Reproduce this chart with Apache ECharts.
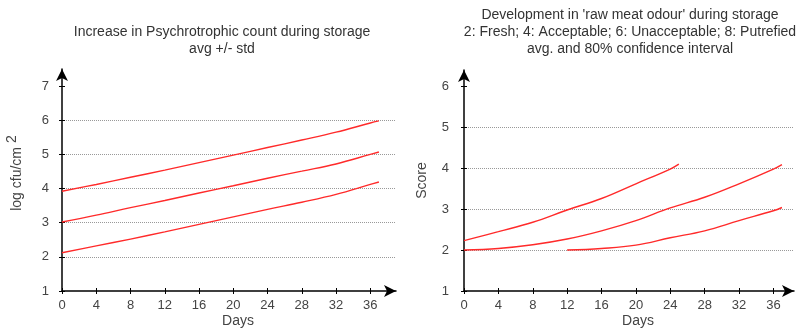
<!DOCTYPE html>
<html><head><meta charset="utf-8">
<script src="https://cdn.jsdelivr.net/npm/echarts@6/dist/echarts.min.js"></script>
<style>html,body{margin:0;padding:0;background:#fff}#c{width:801px;height:329px}</style>
</head><body><div id="c"></div>
<script>
// ---- data ----
const psyDays = [0, 4, 8, 12, 16, 20, 24, 28, 32, 36, 37];
const psyUpper = [3.92, 4.12, 4.33, 4.54, 4.76, 4.98, 5.20, 5.42, 5.65, 5.92, 5.98];
const psyAvg = [3.02, 3.22, 3.44, 3.65, 3.87, 4.08, 4.30, 4.51, 4.72, 5.00, 5.07];
const psyLower = [2.12, 2.32, 2.52, 2.73, 2.95, 3.17, 3.39, 3.60, 3.83, 4.12, 4.19];

const odourUpperDays = [0, 4, 8, 12, 16, 20, 24, 25];
const odourUpper = [2.23, 2.45, 2.68, 2.98, 3.26, 3.62, 3.98, 4.10];
const odourAvgDays = [0, 4, 8, 12, 16, 20, 24, 28, 32, 36, 37];
const odourAvg = [2.00, 2.04, 2.13, 2.27, 2.47, 2.72, 3.03, 3.29, 3.62, 3.98, 4.09];
const odourLowerDays = [12, 16, 20, 24, 28, 32, 36, 37];
const odourLower = [2.00, 2.04, 2.12, 2.30, 2.47, 2.72, 2.96, 3.04];

const dayTicks = [0, 4, 8, 12, 16, 20, 24, 28, 32, 36];
const psyTicks = [1, 2, 3, 4, 5, 6, 7];
const scoreTicks = [1, 2, 3, 4, 5, 6];

const titleLeft = 'Increase in Psychrotrophic count during storage\navg +/- std';
const titleRight = "Development in 'raw meat odour' during storage\n2: Fresh; 4: Acceptable; 6: Unacceptable; 8: Putrefied\navg. and 80% confidence interval";

// ---- styling helpers ----
const FONT = 'Liberation Sans, Arial, sans-serif';
const pair = (xs, ys) => xs.map((x, i) => [x, ys[i]]);

function mainX(grid, max, ticks) {
  return {
    type: 'value', gridIndex: grid, min: 0, max: max, interval: 4, position: 'bottom',
    name: 'Days', nameLocation: 'middle', nameGap: 23, nameMoveOverlap: false,
    nameTextStyle: { fontFamily: FONT, fontSize: 14, color: '#444', padding: [0, 0, 0, 18] },
    axisLine: { show: true, onZero: false, lineStyle: { color: '#000', width: 1.5 },
      symbol: ['none', 'arrow'], symbolSize: [9, 12] },
    axisTick: { show: true, length: 3, customValues: ticks, lineStyle: { color: '#000' } },
    axisLabel: { customValues: ticks, fontFamily: FONT, fontSize: 13, color: '#444', margin: 8 },
    splitLine: { show: false }
  };
}
function innerX(grid, max, ticks) {
  return {
    type: 'value', gridIndex: grid, min: 0, max: max, interval: 4, position: 'bottom',
    axisLine: { show: false, onZero: false },
    axisTick: { show: true, inside: true, length: 3, customValues: ticks, lineStyle: { color: '#000' } },
    axisLabel: { show: false }, splitLine: { show: false }
  };
}
function mainY(grid, max, ticks, name, nameGap, labelMargin, namePad) {
  return {
    type: 'value', gridIndex: grid, min: 1, max: max, interval: 1, position: 'left',
    name: name, nameLocation: 'middle', nameGap: nameGap, nameMoveOverlap: false,
    nameTextStyle: { fontFamily: FONT, fontSize: 14, color: '#444', padding: namePad,
      rich: { s: { fontFamily: FONT, fontSize: 14, color: '#444', padding: [0, 0, 10, 4] } } },
    axisLine: { show: true, onZero: false, lineStyle: { color: '#000', width: 1.5 },
      symbol: ['none', 'arrow'], symbolSize: [9, 12] },
    axisTick: { show: true, length: 3, customValues: ticks, lineStyle: { color: '#000' } },
    axisLabel: { customValues: ticks, fontFamily: FONT, fontSize: 13, color: '#444', margin: labelMargin },
    splitLine: { show: true, showMinLine: false, showMaxLine: false,
      lineStyle: { color: '#999', type: 'dotted', width: 1 } }
  };
}
function innerY(grid, max, ticks) {
  return {
    type: 'value', gridIndex: grid, min: 1, max: max, interval: 1, position: 'left',
    axisLine: { show: false, onZero: false },
    axisTick: { show: true, inside: true, length: 3, customValues: ticks, lineStyle: { color: '#000' } },
    axisLabel: { show: false }, splitLine: { show: false }
  };
}
function redLine(x, y, xs, ys) {
  return {
    type: 'line', xAxisIndex: x, yAxisIndex: y, data: pair(xs, ys), smooth: 0.4,
    showSymbol: false, symbol: 'none', silent: true,
    lineStyle: { color: '#ff2a2a', width: 1.4 }
  };
}

const chart = echarts.init(document.getElementById('c'), null, { renderer: 'canvas' });
chart.setOption({
  animation: false,
  backgroundColor: '#fff',
  title: [
    { text: titleLeft, left: 222, top: 23.5, textAlign: 'center', padding: 0,
      textStyle: { fontFamily: FONT, fontSize: 14, fontWeight: 'normal', color: '#333', lineHeight: 17, align: 'center' } },
    { text: titleRight, left: 630, top: 6.5, textAlign: 'center', padding: 0,
      textStyle: { fontFamily: FONT, fontSize: 14, fontWeight: 'normal', color: '#333', lineHeight: 17, align: 'center' } }
  ],
  grid: [
    { left: 62, right: 405, top: 69, bottom: 38, containLabel: false, outerBoundsMode: 'none' },
    { left: 464, right: 7, top: 70, bottom: 38, containLabel: false, outerBoundsMode: 'none' }
  ],
  xAxis: [
    mainX(0, 39, dayTicks), mainX(1, 38.4, dayTicks),
    innerX(0, 39, dayTicks), innerX(1, 38.4, dayTicks)
  ],
  yAxis: [
    mainY(0, 7.5, psyTicks, 'log cfu/cm{s|2}', 33, 13, [0, 0, 0, 14]),
    mainY(1, 6.4, scoreTicks, 'Score', 35, 15, 0),
    innerY(0, 7.5, psyTicks), innerY(1, 6.4, scoreTicks)
  ],
  series: [
    redLine(0, 0, psyDays, psyUpper),
    redLine(0, 0, psyDays, psyAvg),
    redLine(0, 0, psyDays, psyLower),
    redLine(1, 1, odourUpperDays, odourUpper),
    redLine(1, 1, odourAvgDays, odourAvg),
    redLine(1, 1, odourLowerDays, odourLower)
  ]
});
</script>
</body></html>
